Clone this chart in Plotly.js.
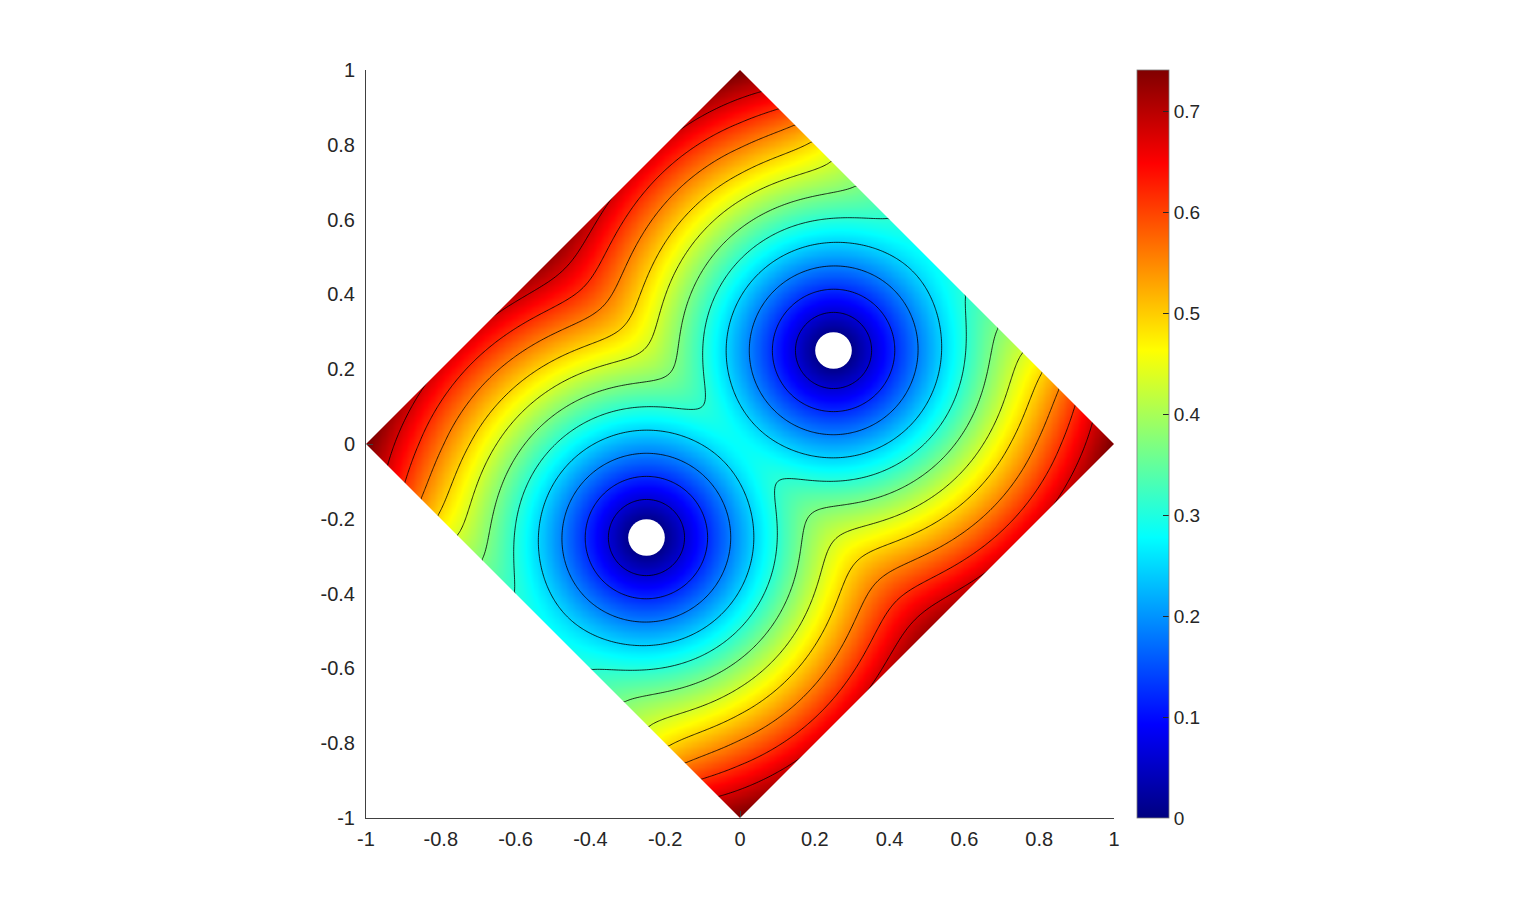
<!DOCTYPE html>
<html>
<head>
<meta charset="utf-8">
<script src="https://cdn.plot.ly/plotly-3.0.1.min.js"></script>
<style>
  html, body { margin: 0; padding: 0; background: #ffffff; }
  #chart { width: 1527px; height: 919px; }
</style>
</head>
<body>
<div id="chart"></div>
<script>
// ---- values ----
const holeX = [-0.25, 0.25];          // hole centres (x)
const holeY = [-0.25, 0.25];          // hole centres (y)
const holeRadius = 0.04;              // radius where the field is zero
const holeDrawRadius = 0.049;         // white hole as drawn
const domainHalfWidth = 1;            // diamond |x|+|y| <= 1
const smoothWidth = 0.047;            // smoothing of the distance near the bisector
const edgeDrop = [0.034, 0.055];      // drop of the field at the outer edge and its decay length
const edgeDropFade = [0.5, 0.72];     // distances from a hole over which that drop fades out
const colorMin = 0;
const colorMax = 0.7406;
const contourLevels = [0.0617, 0.1234, 0.1851, 0.2468, 0.3085, 0.3702, 0.4319, 0.4936, 0.5553, 0.617, 0.6787];
const axisTickVals = [-1, -0.8, -0.6, -0.4, -0.2, 0, 0.2, 0.4, 0.6, 0.8, 1];
const axisTickText = ['-1', '-0.8', '-0.6', '-0.4', '-0.2', '0', '0.2', '0.4', '0.6', '0.8', '1'];
const cbTickVals = [0, 0.1, 0.2, 0.3, 0.4, 0.5, 0.6, 0.7];
const cbTickText = ['0', '0.1', '0.2', '0.3', '0.4', '0.5', '0.6', '0.7'];
const gridCount = 321;

// MATLAB jet
const jet = [
  [0, 'rgb(0,0,128)'],
  [0.125, 'rgb(0,0,255)'],
  [0.375, 'rgb(0,255,255)'],
  [0.625, 'rgb(255,255,0)'],
  [0.875, 'rgb(255,0,0)'],
  [1, 'rgb(128,0,0)']
];

// ---- field: smoothed distance to the nearest hole ----
const D = domainHalfWidth;
const xs = [], ys = [];
for (let i = 0; i < gridCount; i++) {
  const v = -D + 2 * D * i / (gridCount - 1);
  xs.push(v); ys.push(v);
}
function smoothstep(a, b, t) {
  const u = Math.min(1, Math.max(0, (t - a) / (b - a)));
  return u * u * (3 - 2 * u);
}
const z = ys.map(y => xs.map(x => {
  const ds = holeX.map((hx, h) => Math.hypot(x - hx, y - holeY[h]));
  const dmin = Math.min(...ds);
  let s = 0;
  for (const d of ds) s += Math.exp(-(d - dmin) / smoothWidth);
  let u = dmin - smoothWidth * Math.log(s) - holeRadius;
  // drop of the values close to the outer edges, near the holes' side of them
  const edgeDist = Math.max(0, (D - Math.abs(x) - Math.abs(y)) / Math.SQRT2);
  const fade = 1 - smoothstep(edgeDropFade[0], edgeDropFade[1], dmin);
  u -= edgeDrop[0] * Math.exp(-edgeDist / edgeDrop[1]) * fade;
  return Math.max(0, u);
}));

const lvStep = contourLevels[1] - contourLevels[0];

const heat = {
  type: 'heatmap', x: xs, y: ys, z: z,
  zsmooth: 'best', colorscale: jet, zmin: colorMin, zmax: colorMax,
  hoverinfo: 'skip',
  colorbar: {
    x: 1.0307, xanchor: 'left', xpad: 0, ypad: 0,
    y: 0.5, yanchor: 'middle', len: 1, lenmode: 'fraction',
    thickness: 32, thicknessmode: 'pixels',
    outlinewidth: 0.8, outlinecolor: '#7a7a7a',
    tickmode: 'array', tickvals: cbTickVals, ticktext: cbTickText,
    ticks: 'inside', ticklen: 6, tickwidth: 1, tickcolor: '#262626',
    tickfont: { family: 'Liberation Sans, Arial, sans-serif', size: 19, color: '#262626' }
  }
};

const lines = {
  type: 'contour', x: xs, y: ys, z: z,
  autocontour: false,
  contours: { start: contourLevels[0], end: contourLevels[contourLevels.length - 1], size: lvStep, coloring: 'none' },
  line: { color: '#000000', width: 0.8, smoothing: 1 },
  showscale: false, hoverinfo: 'skip'
};

// white masks outside the diamond and inside the holes
const e = 0.25 * D;
const masks = [
  `M ${-D - e},${-e} L ${-D - e},${D + e} L ${e},${D + e} Z`,
  `M ${-e},${D + e} L ${D + e},${D + e} L ${D + e},${-e} Z`,
  `M ${D + e},${e} L ${D + e},${-D - e} L ${-e},${-D - e} Z`,
  `M ${e},${-D - e} L ${-D - e},${-D - e} L ${-D - e},${e} Z`
].map(p => ({ type: 'path', path: p, xref: 'x', yref: 'y', fillcolor: '#ffffff', line: { width: 0 }, layer: 'above' }));
for (let h = 0; h < holeX.length; h++) {
  masks.push({
    type: 'circle', xref: 'x', yref: 'y',
    x0: holeX[h] - holeDrawRadius, x1: holeX[h] + holeDrawRadius,
    y0: holeY[h] - holeDrawRadius, y1: holeY[h] + holeDrawRadius,
    fillcolor: '#ffffff', line: { width: 0 }, layer: 'above'
  });
}

const axisCommon = {
  range: [-1, 1], showgrid: false, zeroline: false,
  showline: true, linecolor: '#404040', linewidth: 1, mirror: false,
  ticks: 'inside', ticklen: 7, tickwidth: 1, tickcolor: '#404040',
  tickmode: 'array', tickvals: axisTickVals, ticktext: axisTickText,
  tickfont: { family: 'Liberation Sans, Arial, sans-serif', size: 20, color: '#262626' },
  fixedrange: true
};

const layout = {
  width: 1527, height: 919,
  margin: { l: 366, r: 413, t: 70, b: 101, pad: 0 },
  paper_bgcolor: '#ffffff', plot_bgcolor: '#ffffff',
  showlegend: false,
  xaxis: Object.assign({}, axisCommon, { ticklabelstandoff: 3 }),
  yaxis: Object.assign({}, axisCommon, { ticklabelstandoff: 6 }),
  shapes: masks
};

Plotly.newPlot('chart', [heat, lines], layout, { displayModeBar: false, staticPlot: true });
</script>
</body>
</html>
